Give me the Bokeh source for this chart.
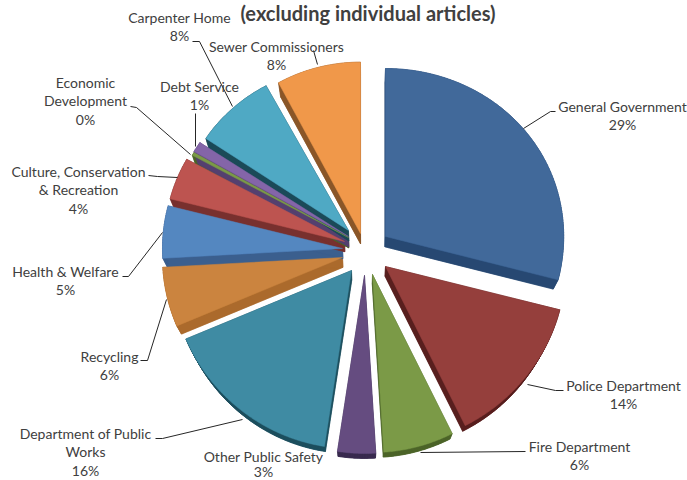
import numpy as np
from bokeh.embed import file_html
from bokeh.models import Range1d
from bokeh.plotting import figure
from bokeh.resources import INLINE
from bokeh.core.properties import value

# Budget shares, percent of the total, clockwise from twelve o'clock
departments = ["General Government", "Police Department", "Fire Department",
               "Other Public Safety", "Department of Public Works", "Recycling",
               "Health & Welfare", "Culture, Conservation & Recreation",
               "Economic Development", "Debt Service", "Carpenter Home",
               "Sewer Commissioners"]
shares = [29, 13.7, 6.3, 3.4, 16.2, 5.5, 4.9, 4, 0.3, 1, 7.7, 8]
share_labels = ["29%", "14%", "6%", "3%", "16%", "6%", "5%", "4%", "0%", "1%", "8%", "8%"]

# Colours of the top faces and of the extruded sides
top_colors = ["#41699a", "#953f3c", "#7b9a47", "#654c80", "#3f8ba3", "#cb843f",
              "#5487c0", "#bd5450", "#7b9a47", "#8465a8", "#4fa9c4", "#f0984a"]
side_colors = ["#274872", "#581f1e", "#4c6429", "#392a4f", "#1d4f5e", "#ab6a2c",
               "#3b5f8e", "#78302e", "#4c6429", "#54406f", "#1b4a58", "#8a5628"]

# Where each exploded slice has its point, and how far it reaches
apex_x = [385, 385, 372, 364, 351, 342, 342, 344, 348, 348, 348, 360]
apex_y = [236, 266, 274, 275, 270, 257, 248, 241, 237, 236, 230, 233]
reach_x = [0.99, 1, 1, 1, 1, 1, 1, 1, 0.99, 0.99, 0.95, 0.945]
reach_y = [1, 1, 1, 1, 1, 1, 1, 1, 1, 1, 0.98, 1.02]

R_X = 180
R_Y_MID = 173
R_Y_TILT = 5
VANISH = (362, 650)
DEPTH = 0.025


def face(i, start, end):
    """Outline of one slice's top face: the point, then the arc."""
    th = np.radians(np.linspace(start, end, max(int(end - start) * 2, 4)))
    xs = apex_x[i] + reach_x[i] * R_X * np.sin(th)
    ys = apex_y[i] - reach_y[i] * (R_Y_MID - R_Y_TILT * np.cos(th)) * np.cos(th)
    return np.r_[apex_x[i], xs], np.r_[apex_y[i], ys]


def lower(xs, ys):
    """The same outline on the underside, drawn toward the vanishing point."""
    return xs + DEPTH * (VANISH[0] - xs), ys + DEPTH * (VANISH[1] - ys)


p = figure(width=687, height=480, output_backend="svg", toolbar_location=None,
           x_range=Range1d(0, 687), y_range=Range1d(480, 0), min_border=0,
           outline_line_color=None, background_fill_color="white",
           border_fill_color="white")
p.axis.visible = False
p.grid.visible = False

# Slices, each with its extrusion first and the top face over it
edges = np.r_[0, np.cumsum(shares)] / np.sum(shares) * 360
for i in range(len(shares)):
    xs, ys = face(i, edges[i], edges[i + 1])
    bx, by = lower(xs, ys)
    p.patch(bx, by, fill_color=side_colors[i], line_color=side_colors[i], line_width=0.5)
    n = len(xs)
    for j in range(n):
        k = (j + 1) % n
        p.patch([xs[j], xs[k], bx[k], bx[j]], [ys[j], ys[k], by[k], by[j]],
                fill_color=side_colors[i], line_color=side_colors[i], line_width=0.5)
for i in range(len(shares)):
    xs, ys = face(i, edges[i], edges[i + 1])
    p.patch(xs, ys, fill_color=top_colors[i], line_color=top_colors[i], line_width=0.5)

# Leader lines from the slices out to their labels
leaders = [
    ([523, 550, 555], [128, 111, 111]),
    ([527, 555, 563], [384, 390, 390]),
    ([420, 525], [452, 451]),
    ([242, 162, 155], [419, 438, 438]),
    ([166, 147, 140], [299, 360, 360]),
    ([162, 128, 122], [232, 276, 276]),
    ([177, 157, 148], [177, 176, 175]),
    ([190, 136, 130], [154, 107, 106]),
    ([195, 195], [146, 113]),
    ([232, 199, 192], [106, 41, 41]),
    ([317, 313], [64, 50]),
]
for lx, ly in leaders:
    p.line(lx, ly, line_color="#262626", line_width=1)

# Category labels, one entry per drawn line of text
label_lines = [
    (["General Government"], 622, 106),
    (["Police Department"], 623, 385),
    (["Fire Department"], 579, 446),
    (["Other Public Safety"], 263, 455.5),
    (["Department of Public", "Works"], 85, 433),
    (["Recycling"], 109, 356),
    (["Health & Welfare"], 65, 271),
    (["Culture, Conservation", "& Recreation"], 78, 171),
    (["Economic", "Development"], 85, 82),
    (["Debt Service"], 199, 86),
    (["Carpenter Home"], 179, 17),
    (["Sewer Commissioners"], 276, 46),
]
LINE_HEIGHT = 18.3
LOWEST_LINE = 471.4
for (lines, cx, cy), pct in zip(label_lines, share_labels):
    for n, txt in enumerate(lines + [pct]):
        p.text([cx], [min(cy + n * LINE_HEIGHT, LOWEST_LINE)], text=[txt],
               text_font=value("Lato"), text_font_size="14px", text_color="#404040",
               text_align="center", text_baseline="middle")

p.text([367.5], [12], text=["(excluding individual articles)"], text_font=value("Lato"),
       text_font_size="20px", text_font_style="bold", text_color="#404040",
       text_align="center", text_baseline="middle")

open("out.html", "w").write(file_html(p, INLINE))
